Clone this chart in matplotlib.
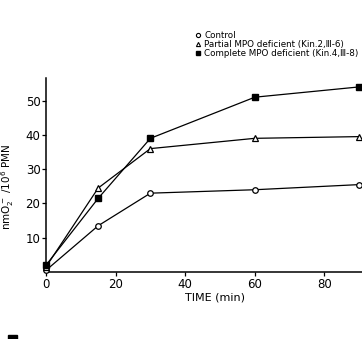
import matplotlib.pyplot as plt
from matplotlib.lines import Line2D
from matplotlib.patches import Rectangle

# time points (min)
time = [0, 15, 30, 60, 90]

# superoxide release, nmol O2- / 10^6 PMN
control = [0.5, 13.5, 23, 24, 25.5]
partial = [1.5, 24.5, 36, 39, 39.5]
complete = [2, 21.5, 39, 51, 54]

labels = ["Control",
          "Partial MPO deficient (Kin.2,\u2162-6)",
          "Complete MPO deficient (Kin.4,\u2162-8)"]

plt.rcParams["font.family"] = ["DejaVu Sans"]

fig = plt.figure(figsize=(3.62, 3.39), dpi=100)
ax = fig.add_axes([46 / 362, 67 / 339, 316 / 362, 194 / 339])

kw = dict(color="black", lw=0.9, clip_on=False, zorder=3)
ax.plot(time, control, marker="o", ms=4, mfc="white", mec="black", mew=0.9, **kw)
ax.plot(time, partial, marker="^", ms=4, mfc="white", mec="black", mew=0.9, **kw)
ax.plot(time, complete, marker="s", ms=4.3, mfc="black", mec="black", **kw)

ax.set_xlim(0, 90.8)
ax.set_ylim(0, 56.6)
ax.set_xticks([0, 20, 40, 60, 80])
ax.set_yticks([10, 20, 30, 40, 50])
ax.spines["top"].set_visible(False)
ax.spines["right"].set_visible(False)
ax.spines["left"].set_linewidth(1.1)
ax.spines["bottom"].set_linewidth(1.1)
ax.tick_params(direction="out", length=3, width=0.9, labelsize=8.5, pad=1)

ax.set_xlabel("TIME (min)", fontsize=8)
ax.xaxis.set_label_coords(0.535, -0.105)
ax.set_ylabel("nmO$_2^-$ /10$^6$ PMN", fontsize=7.5)
ax.yaxis.set_label_coords(-0.095, 0.44)

handles = [
    Line2D([], [], ls="none", marker="o", ms=3, mfc="white", mec="black", mew=0.8),
    Line2D([], [], ls="none", marker="^", ms=3, mfc="white", mec="black", mew=0.8),
    Line2D([], [], ls="none", marker="s", ms=3, mfc="black", mec="black"),
]
fig.legend(handles, labels, loc="upper left", bbox_to_anchor=(194 / 362, 1 - 31 / 339),
           frameon=False, fontsize=6.3, handlelength=0.8, handletextpad=0.4,
           labelspacing=-0.02, borderpad=0, borderaxespad=0)

# scan edge: corner of the next figure
fig.patches.append(Rectangle((8 / 362, 0), 9 / 362, 4 / 339, transform=fig.transFigure,
                             color="black"))

fig.savefig("out.png", dpi=100)
